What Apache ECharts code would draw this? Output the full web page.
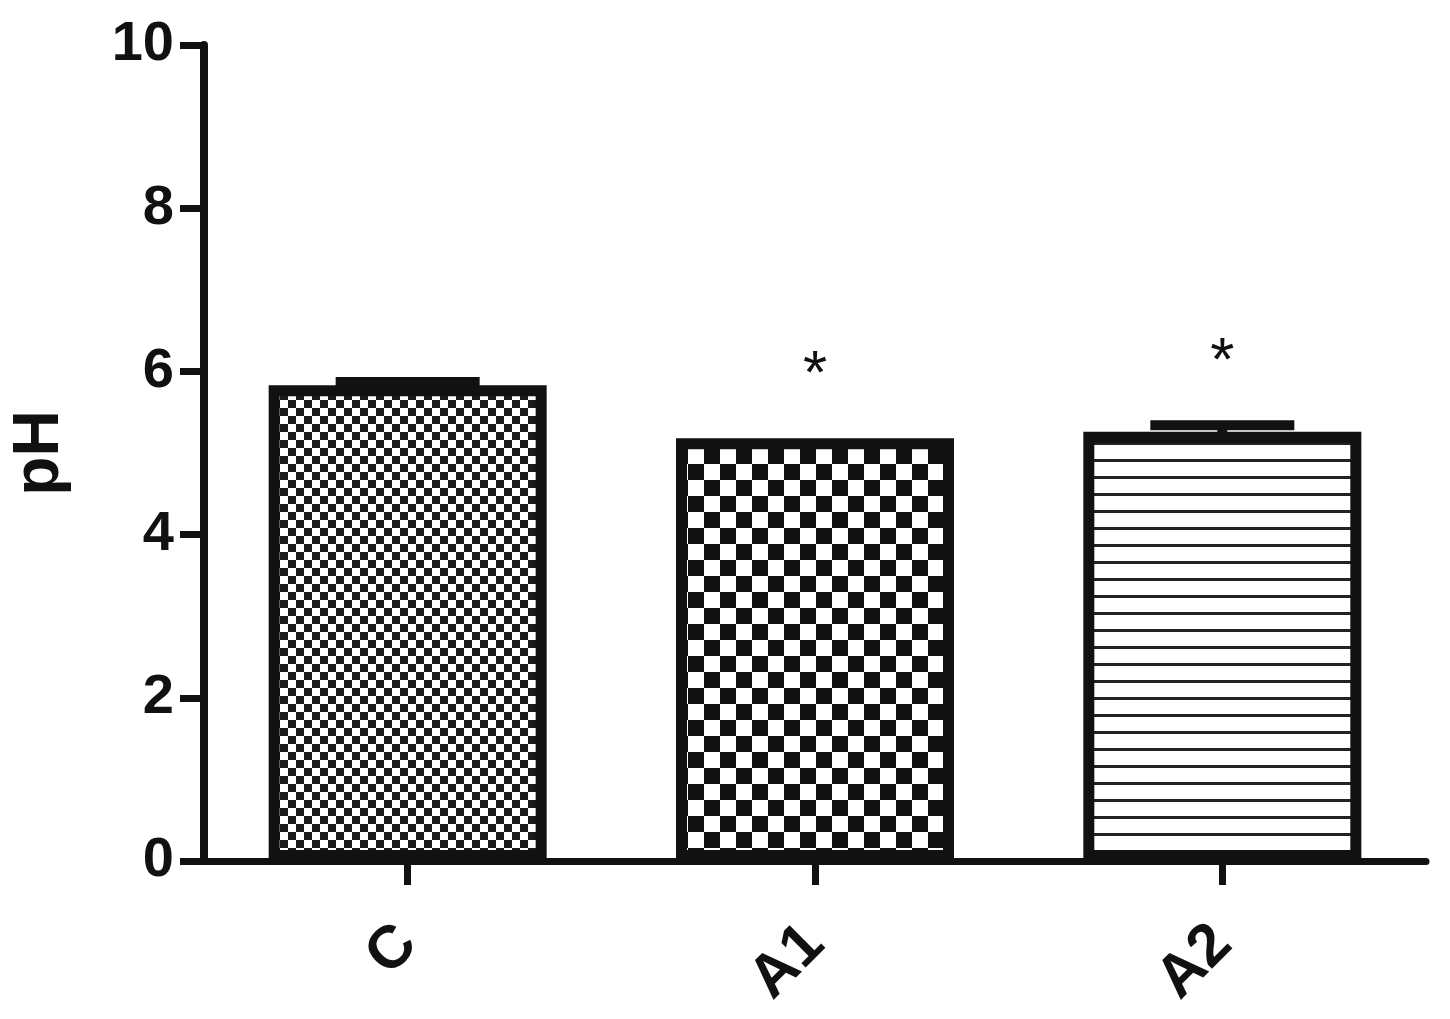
<!DOCTYPE html>
<html>
<head>
<meta charset="utf-8">
<script src="https://cdn.jsdelivr.net/npm/echarts@6/dist/echarts.min.js"></script>
<style>
html,body{margin:0;padding:0;background:#fff;}
#chart{width:1450px;height:1019px;}
</style>
</head>
<body>
<div id="chart"></div>
<script>
// Data
const categories = ['C', 'A1', 'A2'];
const meanValues = [5.83, 5.18, 5.26];
const errorValues = [0.04, 0.0, 0.08];
const significance = ['', '*', '*'];
const yTicks = { min: 0, max: 10, interval: 2 };

function checker(cell, color) {
  const c = document.createElement('canvas');
  c.width = c.height = cell * 2;
  const g = c.getContext('2d');
  g.fillStyle = '#fff';
  g.fillRect(0, 0, cell * 2, cell * 2);
  g.fillStyle = color;
  g.fillRect(0, 0, cell, cell);
  g.fillRect(cell, cell, cell, cell);
  return c;
}
function hlines(period, thick) {
  const c = document.createElement('canvas');
  c.width = 8; c.height = period;
  const g = c.getContext('2d');
  g.fillStyle = '#fff';
  g.fillRect(0, 0, 8, period);
  g.fillStyle = '#222';
  g.fillRect(0, 0, 8, thick);
  return c;
}
const patterns = [
  { image: checker(8, '#1a1a1a'), repeat: 'repeat' },
  { image: checker(16, '#111'), repeat: 'repeat' },
  { image: hlines(17, 3), repeat: 'repeat' }
];

const chart = echarts.init(document.getElementById('chart'));
const FONT = '"Liberation Sans", Arial, sans-serif';
const BLACK = '#111';

chart.setOption({
  animation: false,
  backgroundColor: '#fff',
  grid: { left: 204, right: 24, top: 45, bottom: 158, containLabel: false },
  xAxis: {
    type: 'category',
    data: categories,
    axisLine: { show: true, lineStyle: { color: BLACK, width: 7 } },
    axisTick: { show: true, alignWithLabel: true, length: 24, lineStyle: { color: BLACK, width: 7 } },
    axisLabel: { rotate: 45, margin: 74, fontSize: 60, fontWeight: 'bold', color: BLACK, fontFamily: FONT },
    splitLine: { show: false }
  },
  yAxis: {
    type: 'value',
    min: yTicks.min, max: yTicks.max, interval: yTicks.interval,
    name: 'pH',
    nameLocation: 'middle',
    nameGap: 132,
    nameTextStyle: { fontSize: 64, fontWeight: 'bold', color: BLACK, fontFamily: FONT },
    axisLine: { show: true, lineStyle: { color: BLACK, width: 8 } },
    axisTick: { show: true, length: 24, lineStyle: { color: BLACK, width: 7 } },
    axisLabel: { margin: 30, fontSize: 56, fontWeight: 'bold', color: BLACK, fontFamily: FONT },
    splitLine: { show: false }
  },
  series: [
    {
      type: 'bar',
      barWidth: 278,
      data: meanValues.map((v, i) => ({
        value: v,
        itemStyle: { color: patterns[i], borderColor: BLACK, borderWidth: 11 }
      })),
      z: 2
    },
    {
      type: 'custom',
      z: 3,
      data: meanValues.map((v, i) => [i, v, v + errorValues[i], significance[i]]),
      renderItem: function (params, api) {
        const x = api.value(0);
        const base = api.coord([x, api.value(1)]);
        const top = api.coord([x, api.value(2)]);
        const half = 72;
        const children = [];
        if (top[1] < base[1] - 1) {
          children.push(
            { type: 'line', shape: { x1: top[0], y1: base[1] + 5, x2: top[0], y2: top[1] },
              style: { stroke: BLACK, lineWidth: 10 } },
            { type: 'line', shape: { x1: top[0] - half, y1: top[1], x2: top[0] + half, y2: top[1] },
              style: { stroke: BLACK, lineWidth: 10, lineCap: 'butt' } }
          );
        }
        const sig = significance[params.dataIndex];
        if (sig) {
          children.push({ type: 'text', style: { text: sig, x: top[0], y: top[1] - 62,
            align: 'center', verticalAlign: 'middle', fontSize: 62, fontWeight: 'normal',
            fontFamily: FONT, fill: BLACK } });
        }
        return { type: 'group', children: children };
      }
    }
  ]
});
</script>
</body>
</html>
